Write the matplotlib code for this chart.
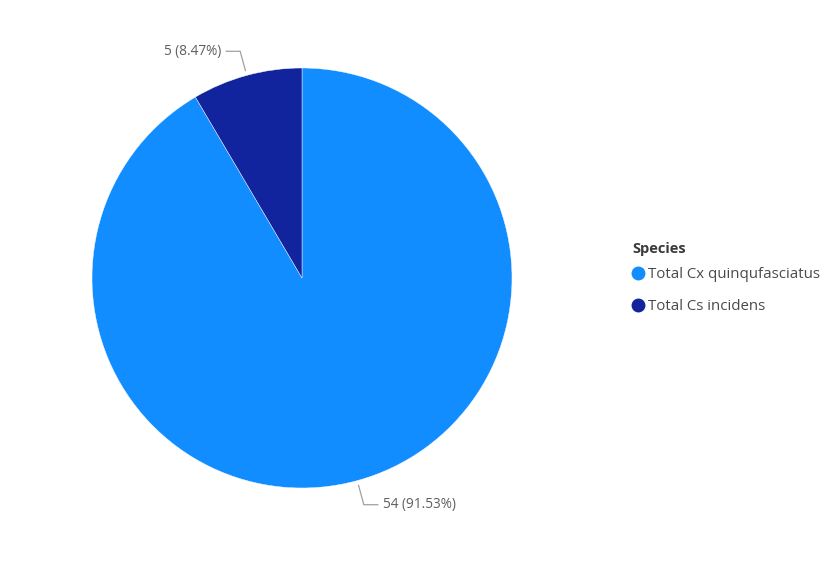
import numpy as np
import matplotlib
matplotlib.use("Agg")
import matplotlib.pyplot as plt
from matplotlib.lines import Line2D

categories = ["Total Cx quinqufasciatus", "Total Cs incidens"]
values = [54, 5]
colors = ["#118DFF", "#12239E"]
legend_title = "Species"

W, H = 835, 567
fig = plt.figure(figsize=(W / 100, H / 100), dpi=100)
ax = fig.add_axes([0, 0, 1, 1])
ax.set_xlim(0, W)
ax.set_ylim(0, H)
ax.set_aspect("equal")
ax.axis("off")

cx, cy, R = 302, H - 278, 210
wedges, _ = ax.pie(values, colors=colors, startangle=90, counterclock=False,
                   center=(cx, cy), radius=R, frame=True,
                   wedgeprops=dict(linewidth=0.3, edgecolor="white"))
ax.set_xlim(0, W)
ax.set_ylim(0, H)
ax.axis("off")

total = sum(values)
font = ["Open Sans", "DejaVu Sans"]
for w, v in zip(wedges, values):
    ang = np.deg2rad((w.theta1 + w.theta2) / 2)
    x0, y0 = cx + 215 * np.cos(ang), cy + 215 * np.sin(ang)
    x1, y1 = cx + 235 * np.cos(ang), cy + 235 * np.sin(ang)
    side = 1 if np.cos(ang) >= 0 else -1
    x2 = x1 + 14 * side
    ax.plot([x0, x1, x2], [y0, y1, y1], color="#A0A0A0", lw=0.9)
    ax.text(x2 + 5 * side, y1, f"{v} ({v / total * 100:.2f}%)",
            ha="left" if side > 0 else "right", va="center",
            fontsize=9.8, color="#605E5C", family=font)

handles = [Line2D([0], [0], marker="o", linestyle="", markersize=9,
                  markerfacecolor=c, markeredgecolor=c) for c in colors]
leg = ax.legend(handles, categories, loc="upper left",
                bbox_to_anchor=(628.5 / W, 1 - 265 / H), frameon=False,
                handletextpad=0.15, handlelength=1.0, labelspacing=1.15,
                borderpad=0.15, borderaxespad=0, prop=dict(family=font, size=10.8))
for t in leg.get_texts():
    t.set_color("#4A4A4A")
fig.text(632 / W, 1 - 249 / H, legend_title, ha="left", va="center",
         family=font, fontsize=10.5, fontweight="bold", color="#3A3A3A")

fig.savefig("out.png", dpi=100, facecolor="white")
